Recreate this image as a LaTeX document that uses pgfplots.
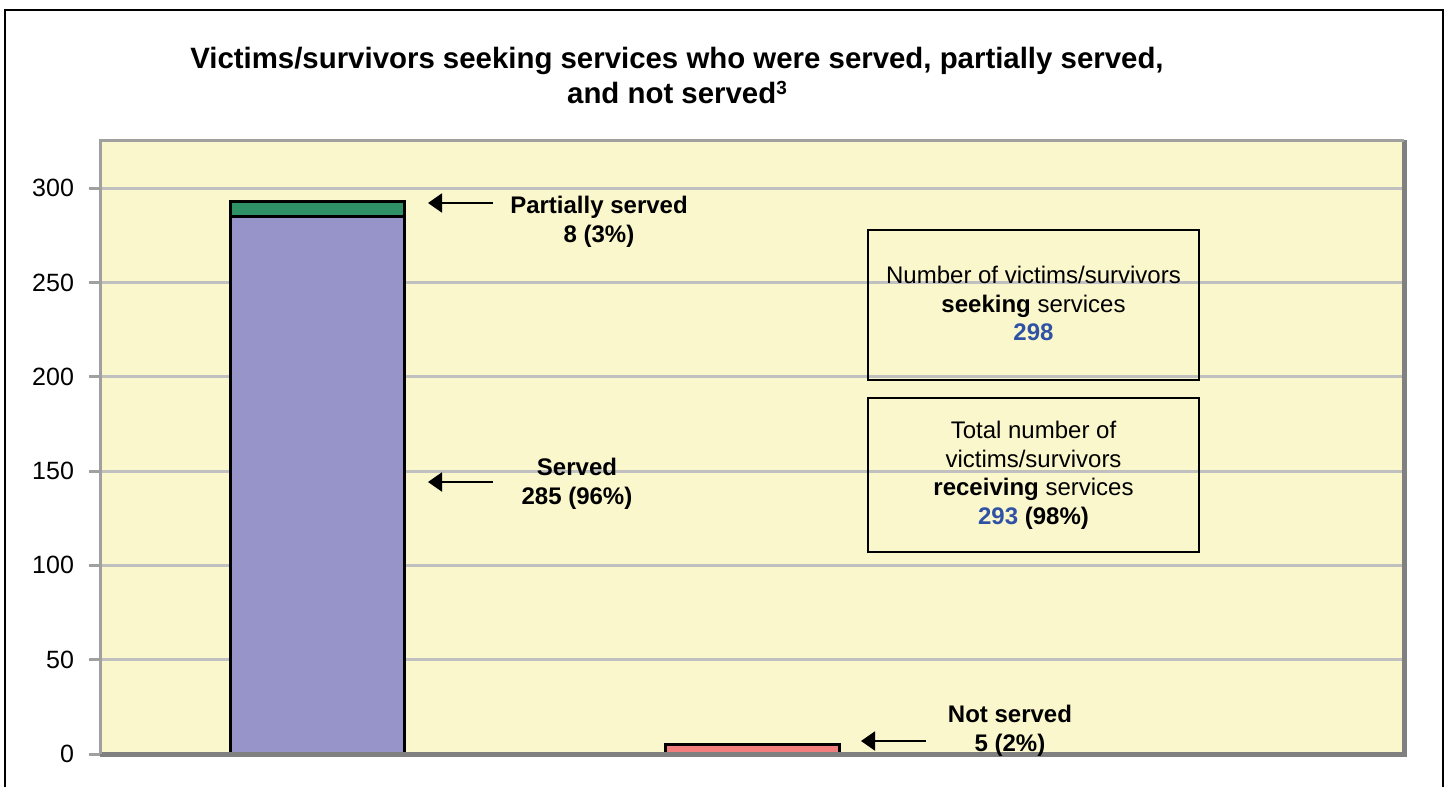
\documentclass[border=0pt]{standalone}
\usepackage{pgfplots}
\pgfplotsset{compat=1.18}
\usepackage{fontspec}
\setmainfont{Liberation Sans}
\usetikzlibrary{arrows.meta}
\definecolor{bgyellow}{HTML}{FAF7CC}
\definecolor{barpurple}{HTML}{9694C8}
\definecolor{bargreen}{HTML}{2E9266}
\definecolor{barsalmon}{HTML}{F27E7E}
\definecolor{gridgray}{HTML}{C0C0C0}
\definecolor{axlight}{HTML}{A0A0A0}
\definecolor{axdark}{HTML}{808080}
\definecolor{numblue}{HTML}{2F52A6}
\begin{document}
\begin{tikzpicture}
\path[use as bounding box] (0pt,0pt) rectangle (723.5pt,-393.5pt);
\begin{axis}[
  at={(50pt,-377pt)}, anchor=south west, scale only axis,
  width=652pt, height=307pt,
  xmin=0.5, xmax=3.5, ymin=0, ymax=325.5,
  xtick=\empty, ytick={0,50,100,150,200,250,300},
  ytick pos=left,
  ymajorgrids, major grid style={draw=gridgray, line width=1.5pt},
  axis background/.style={fill=bgyellow},
  axis line style={draw=none},
  tick align=outside, major tick length=5.5pt,
  ytick style={draw=axlight, line width=1.5pt},
  yticklabel style={font=\fontsize{12.5}{15}\selectfont, /pgf/number format/assume math mode=true, anchor=east, xshift=-4pt},
  ybar stacked, bar width=87pt,
  clip=false,
]
\draw[axlight, line width=1.5pt] (rel axis cs:0,0) -- (rel axis cs:0,1) -- (rel axis cs:1,1);
\draw[axdark, line width=2.5pt] (rel axis cs:0,0) -- (rel axis cs:1,0) -- (rel axis cs:1,1);
\addplot[fill=barpurple, draw=black, line width=1.5pt] coordinates {(1,285) (2,0)};
\addplot[fill=bargreen, draw=black, line width=1.5pt] coordinates {(1,8) (2,0)};
\addplot[fill=barsalmon, draw=black, line width=1.5pt] coordinates {(1,0) (2,5)};
\end{axis}
\begin{scope}[x=0.5pt,y=-0.5pt]
% outer frame
\draw[black, line width=1pt] (5,790) -- (5,10) -- (1443,10) -- (1443,790);
% title
\node[align=center, font=\fontsize{14.7}{17.5}\selectfont\bfseries] at (677,75)
  {Victims/survivors seeking services who were served, partially served,\\and not served\raisebox{0.55ex}{\fontsize{9.5}{9.5}\selectfont 3}};
% arrows
\draw[black, line width=1pt, -{Triangle[length=7pt,width=9.5pt]}] (493,203) -- (428,203);
\draw[black, line width=1pt, -{Triangle[length=7pt,width=9.5pt]}] (493,482) -- (428,482);
\draw[black, line width=1pt, -{Triangle[length=7pt,width=9.5pt]}] (926,741) -- (861,741);
% annotation texts
\node[align=center, font=\fontsize{12}{14.75}\selectfont\bfseries] at (599,222) {Partially served\\8 (3\%)};
\node[align=center, font=\fontsize{12}{14.75}\selectfont\bfseries] at (577,484) {Served\\285 (96\%)};
\node[align=center, font=\fontsize{12}{14.75}\selectfont\bfseries] at (1010,731) {Not served\\5 (2\%)};
% boxes
\draw[black, line width=1pt] (868,230) rectangle (1199,380);
\draw[black, line width=1pt] (868,398) rectangle (1199,552);
\node[align=center, font=\fontsize{12}{14.25}\selectfont] at (1033.5,303.5)
  {Number of victims/survivors\\\textbf{seeking} services\\\textcolor{numblue}{\textbf{298}}};
\node[align=center, font=\fontsize{12}{14.25}\selectfont] at (1033.5,475.5)
  {Total number of\\victims/survivors\\\textbf{receiving} services\\\textcolor{numblue}{\textbf{293}} \textbf{(98\%)}};
\end{scope}
\end{tikzpicture}
\end{document}
